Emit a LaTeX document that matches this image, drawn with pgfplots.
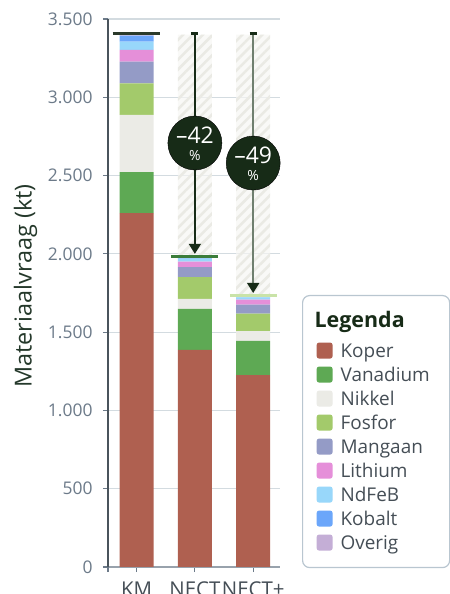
\documentclass[border=0pt]{standalone}
\usepackage{fontspec}
\setmainfont{Open Sans}
\usepackage{pgfplots}
\pgfplotsset{compat=1.18}
\usetikzlibrary{patterns.meta,arrows.meta}

\definecolor{cKoper}{HTML}{AF6050}
\definecolor{cVanadium}{HTML}{5EA954}
\definecolor{cNikkel}{HTML}{EBEBE6}
\definecolor{cFosfor}{HTML}{A3CA6B}
\definecolor{cMangaan}{HTML}{949BC6}
\definecolor{cLithium}{HTML}{E58FD9}
\definecolor{cNdFeB}{HTML}{98D7FA}
\definecolor{cKobalt}{HTML}{6BA6FA}
\definecolor{cOverig}{HTML}{C4AED6}
\definecolor{gridc}{HTML}{D3DBE0}
\definecolor{tickc}{HTML}{6C7A89}
\definecolor{axisc}{HTML}{4A545C}
\definecolor{darkg}{HTML}{172B17}
\definecolor{labelc}{HTML}{24382A}
\definecolor{legtext}{HTML}{454E56}
\definecolor{legborder}{HTML}{B9C6D0}
\definecolor{hatchbg}{HTML}{F6F6F3}
\definecolor{hatchln}{HTML}{EAEAE4}
\definecolor{lineKM}{HTML}{2B3A2B}
\definecolor{lineNECT}{HTML}{3B7D3B}
\definecolor{lineNECTp}{HTML}{C9E3A8}
\definecolor{arrowgray}{HTML}{6F7F6F}

\newcommand{\LE}[1]{\makebox[95bp][l]{\raisebox{5.3bp}{\rule{0pt}{18.7bp}#1}}}

% values (kt)
\pgfplotstableread{
x Koper Vanadium Nikkel Fosfor Mangaan Lithium NdFeB Kobalt Overig Gap
0 2260 262 365 202 138 75 53 38 7 0
1 1386 262 64 140 64 34 19 5 3 1423
2 1225 220 62 111 57 32 15 6 4 1668
}\datatable

\begin{document}
\begin{tikzpicture}
\useasboundingbox (0,0) rectangle (450bp,594bp);
\begin{axis}[
  at={(108bp,27bp)}, anchor=south west,
  scale only axis, width=172bp, height=548bp,
  xmin=-0.49, xmax=2.46, ymin=0, ymax=3500,
  ybar stacked, bar width=34bp,
  xtick={0,1,2}, xticklabels={KM,NECT,NECT+},
  extra x ticks={-0.49}, extra x tick labels={},
  ytick={0,500,...,3500},
  yticklabels={0,500,1.000,1.500,2.000,2.500,3.000,3.500},
  ymajorgrids, grid style={color=gridc, line width=1.2bp},
  axis x line*=bottom, axis y line*=left,
  x axis line style={color=tickc!70, line width=1.2bp, -},
  y axis line style={color=axisc, line width=1.5bp, -},
  tick align=outside, major tick length=5bp,
  tick style={color=tickc, line width=1.2bp},
  yticklabel style={font=\fontsize{17.5}{17.5}\selectfont, text=tickc, xshift=-7bp},
  xticklabel style={font=\fontsize{20.5}{20.5}\selectfont, text=legtext, anchor=base, yshift=-24bp},
  ylabel={Materiaalvraag (kt)},
  ylabel style={at={(axis description cs:-0.4436,0.5128)}, anchor=base,
    font=\fontsize{23.5}{23.5}\selectfont, text=labelc},
  legend cell align=left,
  legend style={at={(rel axis cs:1.128,0.4964)}, anchor=north west,
    draw=legborder, line width=1.2bp, rounded corners=7bp,
    inner xsep=14bp, inner ysep=13bp, row sep=0bp, column sep=8bp,
    nodes={inner sep=0pt, text depth=0pt},
    font=\fontsize{19}{19}\selectfont, text=legtext},
  legend image code/.code={\fill[#1, rounded corners=2.5bp] (0bp,-8bp) rectangle (16bp,8bp);},
]
\addlegendimage{empty legend}
\addlegendentry{\makebox[95bp][l]{\hspace{-26bp}\raisebox{11.3bp}{\rule{0pt}{18.7bp}\textcolor{darkg}{\fontsize{21.5}{21.5}\selectfont\bfseries Legenda}}}}
\addplot[fill=cKoper, draw=none] table[x=x, y=Koper] {\datatable};
\addlegendentry{\LE{Koper}}
\addplot[fill=cVanadium, draw=none] table[x=x, y=Vanadium] {\datatable};
\addlegendentry{\LE{Vanadium}}
\addplot[fill=cNikkel, draw=none] table[x=x, y=Nikkel] {\datatable};
\addlegendentry{\LE{Nikkel}}
\addplot[fill=cFosfor, draw=none] table[x=x, y=Fosfor] {\datatable};
\addlegendentry{\LE{Fosfor}}
\addplot[fill=cMangaan, draw=none] table[x=x, y=Mangaan] {\datatable};
\addlegendentry{\LE{Mangaan}}
\addplot[fill=cLithium, draw=none] table[x=x, y=Lithium] {\datatable};
\addlegendentry{\LE{Lithium}}
\addplot[fill=cNdFeB, draw=none] table[x=x, y=NdFeB] {\datatable};
\addlegendentry{\LE{NdFeB}}
\addplot[fill=cKobalt, draw=none] table[x=x, y=Kobalt] {\datatable};
\addlegendentry{\LE{Kobalt}}
\addplot[fill=cOverig, draw=none] table[x=x, y=Overig] {\datatable};
\addlegendentry{\LE{Overig}}
\addplot[forget plot, draw=none, preaction={fill=hatchbg, fill opacity=0.7},
  pattern={Lines[angle=45,distance=7bp,line width=2.5bp]}, pattern color=hatchln]
  table[x=x, y=Gap] {\datatable};
\end{axis}

\begin{axis}[
  at={(108bp,27bp)}, anchor=south west,
  scale only axis, width=172bp, height=548bp,
  xmin=-0.49, xmax=2.46, ymin=0, ymax=3500,
  hide axis, clip=false,
]
% reference lines on top of bars
\addplot[color=lineKM, line width=3bp] coordinates {(-0.41,3405) (0.41,3405)};
\addplot[color=lineNECT, line width=3bp] coordinates {(0.59,1982) (1.40,1982)};
\addplot[color=lineNECTp, line width=3bp] coordinates {(1.60,1735) (2.41,1735)};
% arrows
\addplot[color=darkg, line width=1.8bp, -{Triangle[width=12bp,length=10bp]}] coordinates {(1,3405) (1,2000)};
\addplot[color=arrowgray, line width=1.8bp, -{Triangle[width=12bp,length=10bp,color=darkg]}] coordinates {(2,3405) (2,1750)};
\addplot[color=darkg, line width=3bp] coordinates {(0.94,3405) (1.06,3405)};
\addplot[color=darkg, line width=3bp] coordinates {(1.94,3405) (2.06,3405)};
% circles
\addplot[only marks, mark=*, mark size=27bp, mark options={fill=darkg, draw=none}] coordinates {(1,2708) (2,2580)};
\end{axis}

\begin{axis}[
  at={(108bp,27bp)}, anchor=south west,
  scale only axis, width=172bp, height=548bp,
  xmin=-0.49, xmax=2.46, ymin=0, ymax=3500,
  hide axis, clip=false,
]
\node[text=white, align=center, inner sep=0pt, font=\fontsize{14}{17}\selectfont] at (axis cs:1,2703)
  {{\fontsize{23}{23}\selectfont \textendash42}\\\%};
\node[text=white, align=center, inner sep=0pt, font=\fontsize{14}{17}\selectfont] at (axis cs:2,2575)
  {{\fontsize{23}{23}\selectfont \textendash49}\\\%};
\end{axis}
\end{tikzpicture}
\end{document}
